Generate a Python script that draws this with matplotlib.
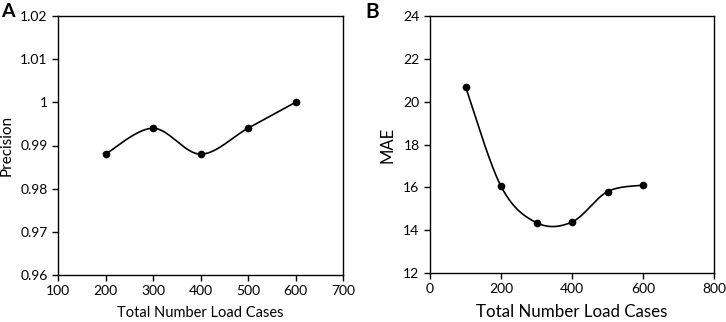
import numpy as np
import matplotlib.pyplot as plt

plt.rcParams['font.family'] = ['Lato', 'DejaVu Sans']

# panel A
cases_a = [200, 300, 400, 500, 600]
precision = [0.988, 0.994, 0.988, 0.994, 1.0]
# panel B
cases_b = [100, 200, 300, 400, 500, 600]
mae = [20.7, 16.05, 14.35, 14.38, 15.8, 16.1]


def smooth(x, y, n=40):
    # excel style smoothed line: cubic bezier, control points from neighbours
    x = np.asarray(x, float)
    y = np.asarray(y, float)
    px, py = [x[0]], [y[0]]
    t = np.linspace(0, 1, n)[1:]
    for i in range(len(x) - 1):
        i0 = max(i - 1, 0)
        i3 = min(i + 2, len(x) - 1)
        c1x = x[i] + (x[i + 1] - x[i0]) / 6
        c1y = y[i] + (y[i + 1] - y[i0]) / 6
        c2x = x[i + 1] - (x[i3] - x[i]) / 6
        c2y = y[i + 1] - (y[i3] - y[i]) / 6
        bx = (1-t)**3*x[i] + 3*(1-t)**2*t*c1x + 3*(1-t)*t**2*c2x + t**3*x[i+1]
        by = (1-t)**3*y[i] + 3*(1-t)**2*t*c1y + 3*(1-t)*t**2*c2y + t**3*y[i+1]
        px.extend(bx)
        py.extend(by)
    return px, py


fig = plt.figure(figsize=(7.26, 3.22), dpi=100)
axA = fig.add_axes([58/726, 1-275/322, 285/726, 259/322])
axB = fig.add_axes([430/726, 1-273/322, 284/726, 257/322])

sx, sy = smooth(cases_a, precision)
axA.plot(sx, sy, color='black', lw=1.2)
axA.plot(cases_a, precision, 'o', color='black', ms=4.5)
axA.set_xlim(100, 700)
axA.set_ylim(0.96, 1.02)
axA.set_xticks(range(100, 701, 100))
axA.set_yticks([0.96, 0.97, 0.98, 0.99, 1.0, 1.01, 1.02])
axA.set_yticklabels(['0.96', '0.97', '0.98', '0.99', '1', '1.01', '1.02'])
axA.set_xlabel('Total Number Load Cases', fontsize=10.5, labelpad=6)
axA.set_ylabel('Precision', fontsize=11, labelpad=5)

sx, sy = smooth(cases_b, mae)
axB.plot(sx, sy, color='black', lw=1.2)
axB.plot(cases_b, mae, 'o', color='black', ms=4.5)
axB.set_xlim(0, 800)
axB.set_ylim(12, 24)
axB.set_xticks(range(0, 801, 200))
axB.set_yticks(range(12, 25, 2))
axB.set_xlabel('Total Number Load Cases', fontsize=12.2, labelpad=6)
axB.set_ylabel('MAE', fontsize=12, labelpad=6)

for ax in (axA, axB):
    for s in ax.spines.values():
        s.set_linewidth(1.0)
    ax.tick_params(direction='out', length=4, width=1, labelsize=10, top=False, right=False)

fig.text(1/726, 1-17/322, 'A', fontsize=14, fontweight='bold')
fig.text(365/726, 1-18/322, 'B', fontsize=15, fontweight='bold')

fig.savefig('out.png', dpi=100)
